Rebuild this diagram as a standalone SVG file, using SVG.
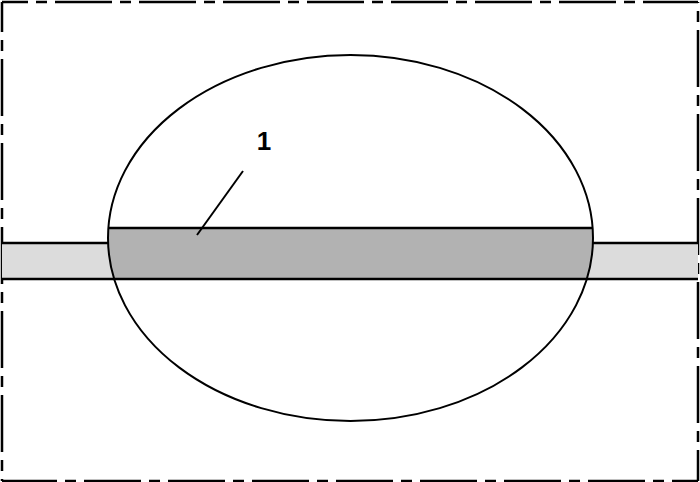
<svg xmlns="http://www.w3.org/2000/svg" width="700" height="482" viewBox="0 0 700 482">
<style>
.frame{fill:none;stroke:#000;stroke-width:2.5;stroke-dasharray:57 8 11 8}
.edge{fill:none;stroke:#000;stroke-width:2.5}
.thin{fill:none;stroke:#000;stroke-width:2}
.label{font-family:"Liberation Sans",Arial,sans-serif;font-weight:bold;font-size:26px;fill:#000}
</style>
<defs>
<clipPath id="inEllipse"><ellipse cx="350.5" cy="238" rx="242.5" ry="183"/></clipPath>
</defs>
<rect width="700" height="482" fill="#fff"/>
<g id="frame">
<line class="frame" x1="2" y1="2" x2="698" y2="2" stroke-dashoffset="31"/>
<line class="frame" x1="2" y1="2" x2="2" y2="481" stroke-dashoffset="27"/>
<line class="frame" x1="698" y1="481" x2="698" y2="2" stroke-dashoffset="26"/>
<line class="frame" x1="698" y1="481" x2="2" y2="481" stroke-dashoffset="31"/>
</g>
<g id="band">
<rect x="2" y="243" width="696" height="36" fill="#dcdcdc"/>
<line class="edge" x1="2" y1="243" x2="110" y2="243"/>
<line class="edge" x1="591" y1="243" x2="698" y2="243"/>
</g>
<g id="core">
<rect x="100" y="228" width="500" height="51" fill="#b2b2b2" clip-path="url(#inEllipse)"/>
<line class="edge" x1="100" y1="228" x2="600" y2="228" clip-path="url(#inEllipse)"/>
</g>
<line class="edge" x1="2" y1="279" x2="698" y2="279"/>
<g id="body">
<ellipse class="thin" cx="350.5" cy="238" rx="242.5" ry="183"/>
</g>
<g id="connectors">
<line class="thin" x1="243" y1="171" x2="197" y2="235"/>
</g>
<g id="label1">
<text class="label" x="264" y="150" text-anchor="middle">1</text>
</g>
</svg>
